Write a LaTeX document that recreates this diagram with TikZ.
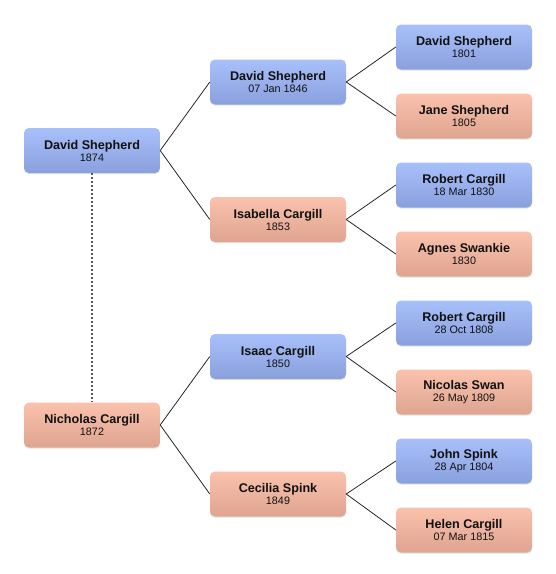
\documentclass[tikz,border=0pt]{standalone}
\usepackage{fontspec}
\setmainfont{Liberation Sans}
\usepackage{tikz}
\usetikzlibrary{shadows}

\definecolor{maletop}{RGB}{168,192,250}
\definecolor{malebot}{RGB}{138,160,222}
\definecolor{femtop}{RGB}{250,194,172}
\definecolor{fembot}{RGB}{222,164,144}
\definecolor{inktxt}{RGB}{17,17,17}

\newcommand{\pname}[1]{{\fontsize{12.6}{13}\selectfont\bfseries #1}}
\newcommand{\pdate}[1]{{\fontsize{10.8}{13}\selectfont #1}}

\begin{document}
\begin{tikzpicture}[
  x=1pt, y=-1pt,
  person/.style={rounded corners=5pt, align=center, inner sep=0pt,
                 minimum width=136pt, minimum height=45pt, text=inktxt,
                 drop shadow={shadow xshift=0pt, shadow yshift=-1.2pt, opacity=0.22}},
  male/.style={person, top color=maletop, bottom color=malebot},
  female/.style={person, top color=femtop, bottom color=fembot},
  link/.style={draw=black!85, line width=0.8pt},
  spouse/.style={draw=gray!70!black, line width=1.4pt, dash pattern=on 2pt off 2pt}
]
\useasboundingbox (0,0) rectangle (556,574);

% generation 0
\node[male] (dav74) at (92,150.5) {\pname{David Shepherd}\\\pdate{1874}};
\node[female] (nic72) at (92,425) {\pname{Nicholas Cargill}\\\pdate{1872}};

% generation 1
\node[male] (dav46) at (278,82) {\pname{David Shepherd}\\\pdate{07 Jan 1846}};
\node[female] (isa53) at (278,219.5) {\pname{Isabella Cargill}\\\pdate{1853}};
\node[male] (isa50) at (278,356.5) {\pname{Isaac Cargill}\\\pdate{1850}};
\node[female] (cec49) at (278,494) {\pname{Cecilia Spink}\\\pdate{1849}};

% generation 2
\node[male] (dav01) at (464,47) {\pname{David Shepherd}\\\pdate{1801}};
\node[female] (jan05) at (464,116) {\pname{Jane Shepherd}\\\pdate{1805}};
\node[male] (rob30) at (464,185) {\pname{Robert Cargill}\\\pdate{18 Mar 1830}};
\node[female] (agn30) at (464,254) {\pname{Agnes Swankie}\\\pdate{1830}};
\node[male] (rob08) at (464,323) {\pname{Robert Cargill}\\\pdate{28 Oct 1808}};
\node[female] (nic09) at (464,392) {\pname{Nicolas Swan}\\\pdate{26 May 1809}};
\node[male] (joh04) at (464,461) {\pname{John Spink}\\\pdate{28 Apr 1804}};
\node[female] (hel15) at (464,530) {\pname{Helen Cargill}\\\pdate{07 Mar 1815}};

\draw[spouse] (dav74.south) -- (nic72.north);

\draw[link] (dav74.east) -- (dav46.west);
\draw[link] (dav74.east) -- (isa53.west);
\draw[link] (nic72.east) -- (isa50.west);
\draw[link] (nic72.east) -- (cec49.west);

\draw[link] (dav46.east) -- (dav01.west);
\draw[link] (dav46.east) -- (jan05.west);
\draw[link] (isa53.east) -- (rob30.west);
\draw[link] (isa53.east) -- (agn30.west);
\draw[link] (isa50.east) -- (rob08.west);
\draw[link] (isa50.east) -- (nic09.west);
\draw[link] (cec49.east) -- (joh04.west);
\draw[link] (cec49.east) -- (hel15.west);
\end{tikzpicture}
\end{document}
